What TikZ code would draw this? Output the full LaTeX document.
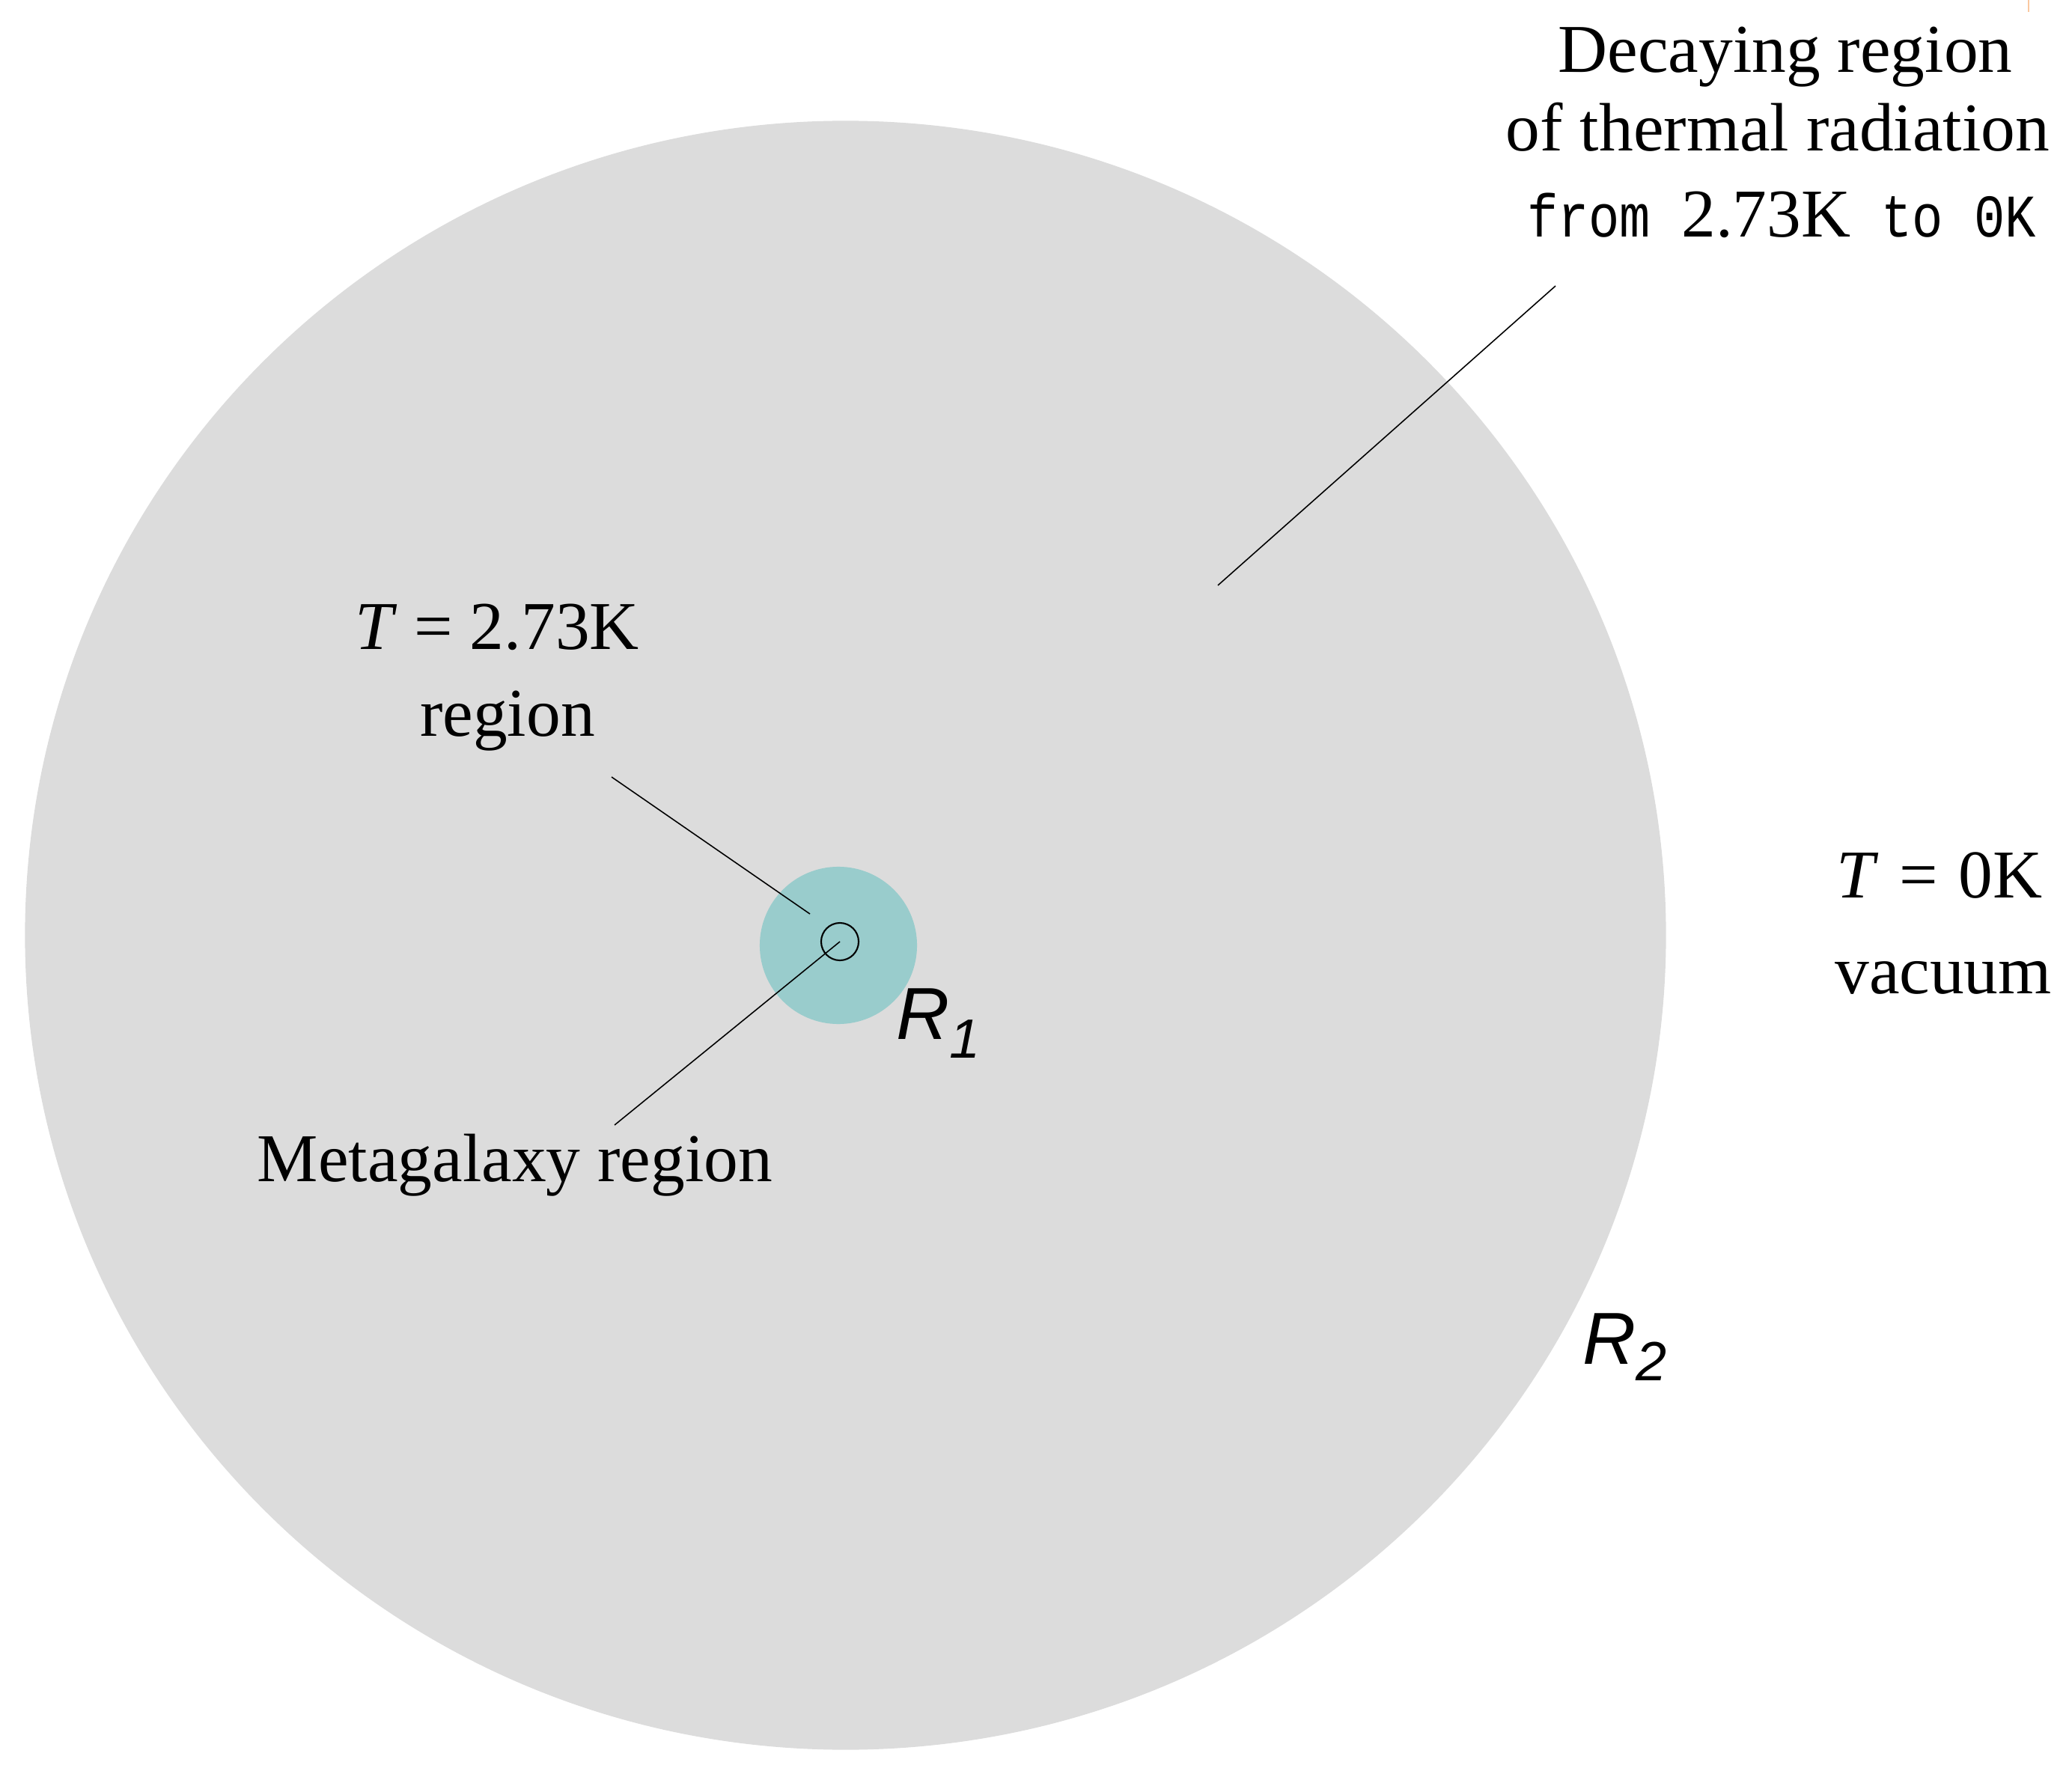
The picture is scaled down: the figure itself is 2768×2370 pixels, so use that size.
\documentclass[tikz,border=0pt]{standalone}
\usepackage{fontspec}
\setmainfont{Liberation Serif}
\newfontfamily\monofnt[FakeStretch=0.85]{Liberation Mono}
\newfontfamily\rfnt{Liberation Sans}
\usetikzlibrary{positioning}

\definecolor{farzone}{RGB}{220,220,220}
\definecolor{hotzone}{RGB}{153,204,204}
\definecolor{nick}{RGB}{250,200,160}

\begin{document}
\begin{tikzpicture}[x=0.01cm,y=-0.01cm,
                    txt/.style={inner sep=0pt,anchor=base,font=\fontsize{26}{32}\selectfont},
                    rad/.style={inner sep=0pt,anchor=base west,font=\rfnt\itshape\fontsize{28}{32}\selectfont},
                    lead/.style={line width=0.45pt}]
\useasboundingbox (0,0) rectangle (2768,2370);
\fill[farzone] (1129.5,1249.5) ellipse [x radius=10.955cm, y radius=10.875cm];
\fill[hotzone] (1120,1263) circle [radius=1.05cm];
\node[draw,circle,line width=0.6pt,inner sep=0pt,minimum size=0.5cm] (core) at (1122,1258) {};
\draw[nick,line width=0.5pt] (2710,0) -- (2710,16);

\node[txt] (dec1) at (2385,97) {Decaying region};
\node[txt] (dec2) at (2375,202) {of thermal radiation};
\node[txt] (dec3) at (2380,317) {{\monofnt\fontsize{23}{28}\selectfont from }2.73K{\monofnt\fontsize{23}{28}\selectfont\ to 0K}};
\node[txt] (hot1) at (664,867) {\textit{T} = 2.73K};
\node[txt] (hot2) at (678,984) {region};
\node[txt] (meta) at (688,1578) {Metagalaxy region};
\node[txt] (vac1) at (2591,1199) {\textit{T}\hspace{0.28cm}=\hspace{0.27cm}0K};
\node[txt] (vac2) at (2596,1327) {vacuum};
\node[rad] (r1) at (1197,1388) {R\raisebox{-0.25cm}{\fontsize{21}{21}\selectfont 1}};
\node[rad] (r2) at (2114,1822) {R\raisebox{-0.22cm}{\fontsize{21}{21}\selectfont 2}};

\coordinate (decfoot) at (2078,382);
\coordinate (dectip) at (1627,782);
\coordinate (hotfoot) at (817,1038);
\coordinate (hottip) at (1082,1221);
\coordinate (metafoot) at (821,1503);
\draw[lead] (decfoot) -- (dectip);
\draw[lead] (hotfoot) -- (hottip);
\draw[lead] (metafoot) -- (core.center);
\end{tikzpicture}
\end{document}
